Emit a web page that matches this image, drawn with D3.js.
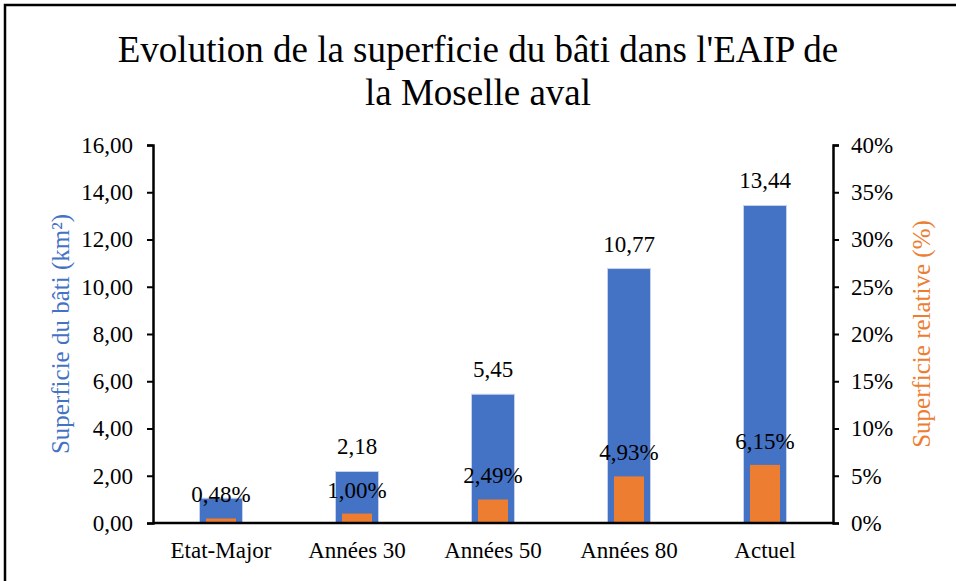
<!DOCTYPE html>
<html>
<head>
<meta charset="utf-8">
<script src="https://cdn.jsdelivr.net/npm/d3@7"></script>
</head>
<body style="margin:0;background:#fff">
<script>
// data
var categories = ["Etat-Major", "Années 30", "Années 50", "Années 80", "Actuel"];
var surface = [1.05, 2.18, 5.45, 10.77, 13.44];        // km²
var relative = [0.0048, 0.0100, 0.0249, 0.0493, 0.0615]; // share of EAIP
var leftTicks = [0, 2, 4, 6, 8, 10, 12, 14, 16];
var rightTicks = [0, 0.05, 0.10, 0.15, 0.20, 0.25, 0.30, 0.35, 0.40];

var width = 956, height = 581;
var blue = "#4472C4", orange = "#ED7D31";
var serif = "'Liberation Serif', 'Times New Roman', serif";
var fs = "23px";

var svg = d3.select("body").append("svg")
    .attr("width", width)
    .attr("height", height)
    .style("font-family", serif);

// frame (cropped on the right and bottom)
svg.append("path")
    .attr("d", "M5,581 V5 H956")
    .attr("fill", "none")
    .attr("stroke", "#000")
    .attr("stroke-width", 2.5);

// title
svg.append("text")
    .attr("x", 478).attr("y", 62)
    .attr("text-anchor", "middle")
    .style("font-family", serif)
    .style("font-size", "37px")
    .text("Evolution de la superficie du bâti dans l'EAIP de");
svg.append("text")
    .attr("x", 478).attr("y", 105)
    .attr("text-anchor", "middle")
    .style("font-family", serif)
    .style("font-size", "37px")
    .text("la Moselle aval");

var pLeft = 153, pRight = 833, pTop = 145, pBottom = 523;

var x = d3.scaleBand()
    .domain(categories)
    .range([pLeft, pRight]);

var y = d3.scaleLinear().domain([0, 16]).range([pBottom, pTop]);
var y2 = d3.scaleLinear().domain([0, 0.40]).range([pBottom, pTop]);

function comma(v) { return v.toFixed(2).replace(".", ","); }
function pct0(v) { return Math.round(v * 100) + "%"; }
function pct2(v) { return (v * 100).toFixed(2).replace(".", ",") + "%"; }

// bars
var bw = 43, ow = 30;
svg.append("g").selectAll("rect")
    .data(surface)
    .enter()
    .append("rect")
    .attr("x", function(d, i) { return x(categories[i]) + x.bandwidth() / 2 - bw / 2; })
    .attr("y", function(d) { return y(d); })
    .attr("width", bw)
    .attr("height", function(d) { return pBottom - y(d); })
    .attr("fill", blue)
    .attr("stroke", "#c5d3ee")
    .attr("stroke-width", 1);

svg.append("g").selectAll("rect")
    .data(relative)
    .enter()
    .append("rect")
    .attr("x", function(d, i) { return x(categories[i]) + x.bandwidth() / 2 - ow / 2; })
    .attr("y", function(d) { return y2(d); })
    .attr("width", ow)
    .attr("height", function(d) { return pBottom - y2(d); })
    .attr("fill", orange);

// value labels (the first one is hidden behind the percentage label)
svg.append("g").selectAll("text")
    .data(surface.slice(1))
    .enter()
    .append("text")
    .attr("x", function(d, i) { return x(categories[i + 1]) + x.bandwidth() / 2; })
    .attr("y", function(d) { return y(d) - 17; })
    .attr("text-anchor", "middle")
    .style("font-family", serif)
    .style("font-size", fs)
    .text(comma);

svg.append("g").selectAll("text")
    .data(relative)
    .enter()
    .append("text")
    .attr("x", function(d, i) { return x(categories[i]) + x.bandwidth() / 2; })
    .attr("y", function(d) { return y2(d) - 16; })
    .attr("text-anchor", "middle")
    .style("font-family", serif)
    .style("font-size", fs)
    .text(pct2);

// axes
var yAxis = svg.append("g")
    .attr("transform", "translate(" + pLeft + ",0)")
    .call(d3.axisLeft(y).tickValues(leftTicks).tickFormat(comma).tickSize(6).tickPadding(14));
var yAxis2 = svg.append("g")
    .attr("transform", "translate(" + pRight + ",0)")
    .call(d3.axisRight(y2).tickValues(rightTicks).tickFormat(pct0).tickSize(6).tickPadding(12));
var xAxis = svg.append("g")
    .attr("transform", "translate(0," + pBottom + ")")
    .call(d3.axisBottom(x).tickSize(0).tickPadding(19));

[yAxis, yAxis2, xAxis].forEach(function(a) {
    a.attr("font-family", null).attr("font-size", null);
    a.selectAll("path").attr("stroke", "#000").attr("stroke-width", 2.5);
    a.selectAll("line").attr("stroke", "#000").attr("stroke-width", 2);
    a.selectAll("text")
        .style("font-family", serif)
        .style("font-size", fs)
        .attr("fill", "#000");
});
xAxis.select("path").attr("d", "M" + pLeft + ",0H" + pRight);

// axis titles
svg.append("text")
    .attr("transform", "translate(69,334) rotate(-90)")
    .attr("text-anchor", "middle")
    .attr("fill", blue)
    .style("font-family", serif)
    .style("font-size", "25px")
    .text("Superficie du bâti (km²)");

svg.append("text")
    .attr("transform", "translate(930,334) rotate(-90)")
    .attr("text-anchor", "middle")
    .attr("fill", orange)
    .style("font-family", serif)
    .style("font-size", "25px")
    .text("Superficie relative (%)");
</script>
</body>
</html>
